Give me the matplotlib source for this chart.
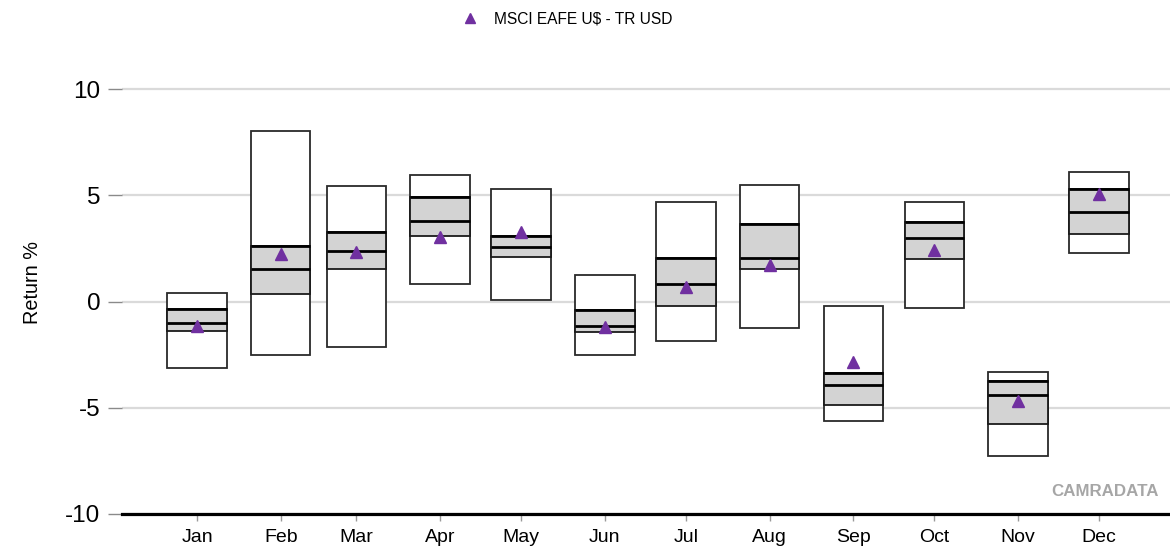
import matplotlib
matplotlib.use("Agg")
import matplotlib.pyplot as plt
import matplotlib.dates as mdates
from matplotlib.font_manager import fontManager
import numpy as np
import pandas as pd

# ---- data ----
months = ["Jan", "Feb", "Mar", "Apr", "May", "Jun", "Jul", "Aug", "Sep", "Oct", "Nov", "Dec"]
month_starts = pd.date_range("2023-01-01", periods=12, freq="MS")
upper = [0.41, 8.00, 5.42, 5.95, 5.28, 1.23, 4.69, 5.50, -0.21, 4.69, -3.34, 6.08]
q_upper = [-0.37, 2.61, 3.25, 4.92, 3.08, -0.40, 2.03, 3.65, -3.36, 3.75, -3.73, 5.30]
median = [-1.01, 1.54, 2.37, 3.78, 2.56, -1.15, 0.84, 2.06, -3.95, 2.97, -4.42, 4.23]
q_lower = [-1.38, 0.37, 1.51, 3.06, 2.10, -1.42, -0.21, 1.51, -4.86, 2.01, -5.77, 3.20]
lower = [-3.15, -2.51, -2.14, 0.82, 0.07, -2.53, -1.85, -1.26, -5.61, -0.31, -7.28, 2.26]
index_ret = [-1.13, 2.23, 2.34, 3.04, 3.28, -1.18, 0.70, 1.71, -2.87, 2.42, -4.67, 5.05]
series_name = "MSCI EAFE U$ - TR USD"
y_ticks = [-10, -5, 0, 5, 10]

# ---- fonts ----
names = {f.name for f in fontManager.ttflist}
base_font = "Liberation Sans" if "Liberation Sans" in names else "DejaVu Sans"
narrow_font = "Liberation Sans Narrow" if "Liberation Sans Narrow" in names else base_font
plt.rcParams["font.family"] = [base_font, "DejaVu Sans"]

W, H = 1170, 554
fig = plt.figure(figsize=(W / 100, H / 100), dpi=100)
ax_left, ax_right, ax_bottom, ax_top = 122, 1170, 514, 50
ax = fig.add_axes([ax_left / W, (H - ax_bottom) / H, (ax_right - ax_left) / W, (ax_bottom - ax_top) / H])

x = mdates.date2num(month_starts.to_pydatetime())
box_w = 22.0

# outer boxes
ax.bar(x, np.array(upper) - np.array(lower), bottom=lower, width=box_w,
       color="white", edgecolor="#2a2a2a", linewidth=1.3, zorder=3)
# inter-quartile boxes
ax.bar(x, np.array(q_upper) - np.array(q_lower), bottom=q_lower, width=box_w,
       color="#D3D3D3", edgecolor="#1a1a1a", linewidth=1.3, zorder=4)
# thick lines for upper quartile and median
ax.hlines(q_upper, x - box_w / 2, x + box_w / 2, colors="black", linewidth=2.0, zorder=5)
ax.hlines(median, x - box_w / 2, x + box_w / 2, colors="black", linewidth=2.0, zorder=5)
# index markers
ax.plot(x, index_ret, linestyle="none", marker="^", markersize=8.5,
        color="#7030A0", markeredgecolor="#7030A0", zorder=6, label=series_name)

# axes limits
px_per_unit = 21.25
ax.set_ylim(-10, -10 + (ax_bottom - ax_top) / px_per_unit)
ax.set_xlim(x[0] - 27.8, x[0] + 360.3)

# y axis
ax.set_yticks(y_ticks)
ax.set_yticklabels([str(v) for v in y_ticks], fontsize=17.5)
ax.yaxis.grid(True, color="#DADADA", linewidth=1.6, zorder=0)
ax.set_axisbelow(True)
ax.tick_params(axis="y", direction="out", length=10, width=1.0, color="#8a8a8a", pad=5.5)
ax.set_ylabel("Return %", fontsize=14.3, labelpad=17)

# x axis
ax.set_xticks(x)
ax.set_xticklabels(months, fontsize=14)
ax.tick_params(axis="x", direction="out", length=5, width=1.0, color="#9a9a9a", pad=5.5)

for s in ["top", "right", "left"]:
    ax.spines[s].set_visible(False)
ax.spines["bottom"].set_color("black")
ax.spines["bottom"].set_linewidth(2.3)
ax.spines["bottom"].set_zorder(7)

# watermark
ax.text((1159 - ax_left) / (ax_right - ax_left), (ax_bottom - 492) / (ax_bottom - ax_top), "CAMRADATA",
        transform=ax.transAxes, ha="right", va="center", fontsize=12.2, fontweight="bold", color="#A6A6A6")

# legend
leg = fig.legend(loc="center", bbox_to_anchor=(568 / W, 1 - 19 / H), frameon=False,
                 handlelength=0.8, handletextpad=1.1, borderpad=0,
                 prop={"family": [narrow_font, base_font], "size": 11.2})
for h in leg.legend_handles:
    h.set_markersize(6.5)

fig.savefig("out.png", dpi=100)
